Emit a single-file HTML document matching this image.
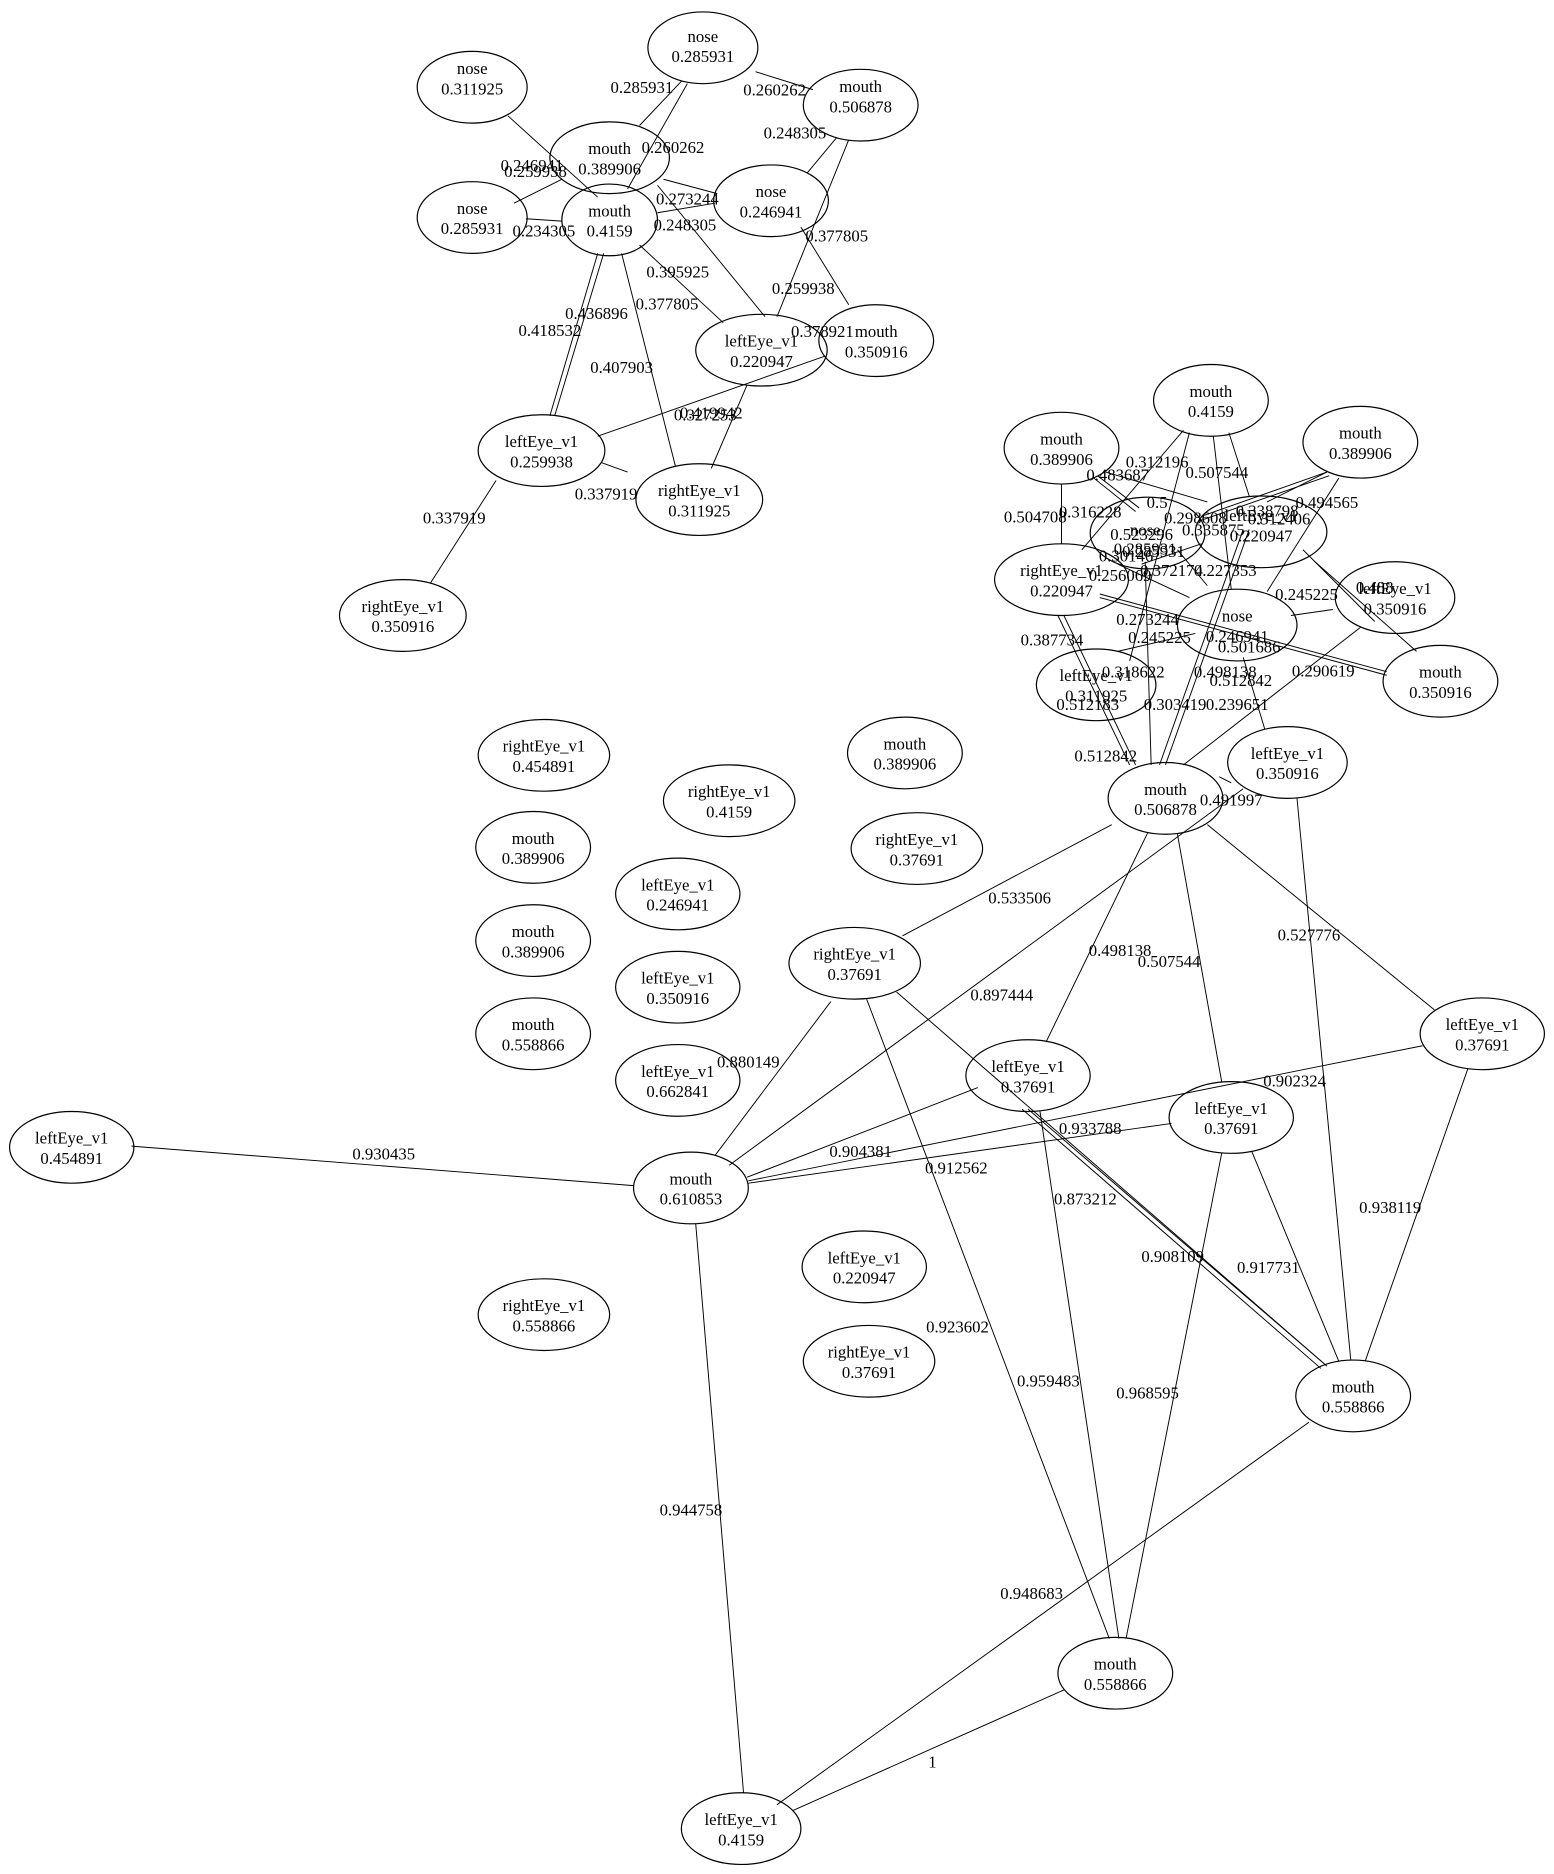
<!DOCTYPE html>
<html><head><meta charset="utf-8"><style>
html,body{margin:0;padding:0;background:#fff;}
svg{display:block;}
text{font-family:"Liberation Serif",serif;font-size:14px;fill:#000;text-anchor:middle;}
ellipse{fill:none;stroke:#000;stroke-width:1;}
line{stroke:#000;stroke-width:0.8;}
</style></head><body>
<svg width="1554" height="1874" viewBox="0 0 1300 1568" preserveAspectRatio="none">
<g>
<!-- top cluster edges -->
<line x1="425" y1="97" x2="500" y2="165"/>
<line x1="430" y1="170" x2="470" y2="150"/>
<line x1="440" y1="183" x2="470" y2="185"/>
<line x1="570" y1="68" x2="535" y2="105"/>
<line x1="575" y1="70" x2="525" y2="158"/>
<line x1="632" y1="60" x2="680" y2="75"/>
<line x1="700" y1="115" x2="675" y2="145"/>
<line x1="710" y1="117" x2="650" y2="265"/>
<line x1="555" y1="150" x2="600" y2="162"/>
<line x1="550" y1="178" x2="598" y2="170"/>
<line x1="550" y1="155" x2="640" y2="265"/>
<line x1="670" y1="190" x2="710" y2="255"/>
<line x1="535" y1="205" x2="605" y2="270"/>
<line x1="520" y1="212" x2="565" y2="390"/>
<line x1="500" y1="212" x2="460" y2="348"/>
<line x1="505" y1="212" x2="464" y2="348"/>
<line x1="500" y1="365" x2="690" y2="298"/>
<line x1="625" y1="322" x2="595" y2="392"/>
<line x1="503" y1="387" x2="525" y2="395"/>
<line x1="415" y1="402" x2="360" y2="488"/>
<!-- right cluster edges -->
<line x1="888" y1="405" x2="888" y2="455"/>
<line x1="915" y1="400" x2="950" y2="428"/>
<line x1="918" y1="398" x2="953" y2="425"/>
<line x1="925" y1="395" x2="1010" y2="420"/>
<line x1="990" y1="360" x2="905" y2="460"/>
<line x1="995" y1="362" x2="945" y2="553"/>
<line x1="1015" y1="365" x2="1030" y2="493"/>
<line x1="1028" y1="362" x2="1045" y2="415"/>
<line x1="1110" y1="395" x2="1005" y2="432"/>
<line x1="1112" y1="398" x2="1003" y2="436"/>
<line x1="1110" y1="395" x2="1060" y2="420"/>
<line x1="1120" y1="400" x2="1060" y2="495"/>
<line x1="1090" y1="460" x2="1150" y2="520"/>
<line x1="1100" y1="470" x2="1185" y2="545"/>
<line x1="920" y1="497" x2="1160" y2="562"/>
<line x1="920" y1="500" x2="1160" y2="565"/>
<line x1="935" y1="472" x2="995" y2="500"/>
<line x1="985" y1="460" x2="1010" y2="490"/>
<line x1="955" y1="472" x2="1005" y2="455"/>
<line x1="885" y1="515" x2="945" y2="640"/>
<line x1="890" y1="515" x2="950" y2="640"/>
<line x1="958" y1="470" x2="963" y2="640"/>
<line x1="935" y1="545" x2="1000" y2="530"/>
<line x1="1040" y1="443" x2="970" y2="640"/>
<line x1="1045" y1="443" x2="975" y2="640"/>
<line x1="1080" y1="515" x2="1115" y2="510"/>
<line x1="1138" y1="525" x2="990" y2="640"/>
<line x1="1040" y1="550" x2="1058" y2="610"/>
<line x1="1020" y1="650" x2="1030" y2="655"/>
<!-- lower edges -->
<line x1="930" y1="690" x2="755" y2="783"/>
<line x1="1040" y1="660" x2="610" y2="975"/>
<line x1="960" y1="697" x2="875" y2="872"/>
<line x1="985" y1="698" x2="1022" y2="905"/>
<line x1="1010" y1="690" x2="1200" y2="845"/>
<line x1="1085" y1="668" x2="1130" y2="1138"/>
<line x1="695" y1="838" x2="598" y2="967"/>
<line x1="625" y1="985" x2="818" y2="910"/>
<line x1="626" y1="990" x2="980" y2="940"/>
<line x1="626" y1="988" x2="1190" y2="875"/>
<line x1="110" y1="959" x2="530" y2="992"/>
<line x1="582" y1="1024" x2="622" y2="1500"/>
<line x1="725" y1="836" x2="928" y2="1371"/>
<line x1="750" y1="830" x2="1110" y2="1143"/>
<line x1="855" y1="928" x2="1105" y2="1145"/>
<line x1="860" y1="928" x2="1110" y2="1143"/>
<line x1="870" y1="930" x2="936" y2="1371"/>
<line x1="1022" y1="965" x2="942" y2="1371"/>
<line x1="1047" y1="963" x2="1120" y2="1139"/>
<line x1="1228" y1="894" x2="1142" y2="1139"/>
<line x1="1095" y1="1190" x2="650" y2="1510"/>
<line x1="890" y1="1414" x2="663" y2="1515"/>
</g>
<g>
<!-- nodes -->
<ellipse cx="395" cy="73" rx="46" ry="30" fill="#fff"/><text x="395" y="62">nose</text><text x="395" y="79">0.311925</text>
<ellipse cx="588" cy="40" rx="46" ry="30"/><text x="588" y="35">nose</text><text x="588" y="52">0.285931</text>
<ellipse cx="720" cy="88" rx="48" ry="30"/><text x="720" y="77">mouth</text><text x="720" y="94">0.506878</text>
<ellipse cx="510" cy="132" rx="50" ry="30"/><text x="510" y="129">mouth</text><text x="510" y="146">0.389906</text>
<ellipse cx="395" cy="182" rx="46" ry="30"/><text x="395" y="179">nose</text><text x="395" y="196">0.285931</text>
<ellipse cx="510" cy="184" rx="40" ry="30"/><text x="510" y="181">mouth</text><text x="510" y="198">0.4159</text>
<ellipse cx="645" cy="168" rx="48" ry="30"/><text x="645" y="165">nose</text><text x="645" y="182">0.246941</text>
<ellipse cx="637" cy="293" rx="55" ry="30"/><text x="637" y="290">leftEye_v1</text><text x="637" y="307">0.220947</text>
<ellipse cx="733" cy="285" rx="48" ry="30"/><text x="733" y="282">mouth</text><text x="733" y="299">0.350916</text>
<ellipse cx="453" cy="377" rx="53" ry="30"/><text x="453" y="374">leftEye_v1</text><text x="453" y="391">0.259938</text>
<ellipse cx="585" cy="418" rx="53" ry="30"/><text x="585" y="415">rightEye_v1</text><text x="585" y="432">0.311925</text>
<ellipse cx="337" cy="515" rx="53" ry="30"/><text x="337" y="512">rightEye_v1</text><text x="337" y="529">0.350916</text>

<ellipse cx="1013" cy="335" rx="48" ry="30"/><text x="1013" y="332">mouth</text><text x="1013" y="349">0.4159</text>
<ellipse cx="888" cy="375" rx="48" ry="30"/><text x="888" y="372">mouth</text><text x="888" y="389">0.389906</text>
<ellipse cx="1138" cy="370" rx="48" ry="30"/><text x="1138" y="367">mouth</text><text x="1138" y="384">0.389906</text>
<ellipse cx="960" cy="446" rx="48" ry="30"/><text x="958" y="448">nose</text><text x="958" y="464">0.285931</text>
<ellipse cx="1055" cy="445" rx="55" ry="30"/><text x="1055" y="436">leftEye_v1</text><text x="1055" y="453">0.220947</text>
<ellipse cx="888" cy="485" rx="56" ry="30"/><text x="888" y="482">rightEye_v1</text><text x="888" y="499">0.220947</text>
<ellipse cx="1167" cy="500" rx="50" ry="30"/><text x="1167" y="497">leftEye_v1</text><text x="1167" y="514">0.350916</text>
<ellipse cx="1035" cy="523" rx="50" ry="30"/><text x="1035" y="520">nose</text><text x="1035" y="537">0.246941</text>
<ellipse cx="917" cy="573" rx="50" ry="30"/><text x="917" y="570">leftEye_v1</text><text x="917" y="587">0.311925</text>
<ellipse cx="1205" cy="570" rx="48" ry="30"/><text x="1205" y="567">mouth</text><text x="1205" y="584">0.350916</text>
<ellipse cx="1077" cy="638" rx="50" ry="30"/><text x="1077" y="635">leftEye_v1</text><text x="1077" y="652">0.350916</text>
<ellipse cx="975" cy="668" rx="48" ry="30"/><text x="975" y="665">mouth</text><text x="975" y="682">0.506878</text>

<ellipse cx="715" cy="806" rx="55" ry="30"/><text x="715" y="803">rightEye_v1</text><text x="715" y="820">0.37691</text>
<ellipse cx="860" cy="900" rx="52" ry="30"/><text x="860" y="897">leftEye_v1</text><text x="860" y="914">0.37691</text>
<ellipse cx="1030" cy="935" rx="52" ry="30"/><text x="1030" y="932">leftEye_v1</text><text x="1030" y="949">0.37691</text>
<ellipse cx="1240" cy="865" rx="52" ry="30"/><text x="1240" y="862">leftEye_v1</text><text x="1240" y="879">0.37691</text>
<ellipse cx="578" cy="994" rx="48" ry="30"/><text x="578" y="991">mouth</text><text x="578" y="1008">0.610853</text>
<ellipse cx="60" cy="960" rx="52" ry="30"/><text x="60" y="957">leftEye_v1</text><text x="60" y="974">0.454891</text>
<ellipse cx="1132" cy="1168" rx="48" ry="30"/><text x="1132" y="1165">mouth</text><text x="1132" y="1182">0.558866</text>
<ellipse cx="933" cy="1400" rx="48" ry="30"/><text x="933" y="1397">mouth</text><text x="933" y="1414">0.558866</text>
<ellipse cx="620" cy="1530" rx="50" ry="30"/><text x="620" y="1527">leftEye_v1</text><text x="620" y="1544">0.4159</text>

<ellipse cx="455" cy="632" rx="55" ry="30"/><text x="455" y="629">rightEye_v1</text><text x="455" y="646">0.454891</text>
<ellipse cx="610" cy="670" rx="55" ry="30"/><text x="610" y="667">rightEye_v1</text><text x="610" y="684">0.4159</text>
<ellipse cx="757" cy="630" rx="48" ry="30"/><text x="757" y="627">mouth</text><text x="757" y="644">0.389906</text>
<ellipse cx="767" cy="710" rx="55" ry="30"/><text x="767" y="707">rightEye_v1</text><text x="767" y="724">0.37691</text>
<ellipse cx="446" cy="709" rx="48" ry="30"/><text x="446" y="706">mouth</text><text x="446" y="723">0.389906</text>
<ellipse cx="567" cy="748" rx="52" ry="30"/><text x="567" y="745">leftEye_v1</text><text x="567" y="762">0.246941</text>
<ellipse cx="446" cy="787" rx="48" ry="30"/><text x="446" y="784">mouth</text><text x="446" y="801">0.389906</text>
<ellipse cx="567" cy="826" rx="52" ry="30"/><text x="567" y="823">leftEye_v1</text><text x="567" y="840">0.350916</text>
<ellipse cx="446" cy="865" rx="48" ry="30"/><text x="446" y="862">mouth</text><text x="446" y="879">0.558866</text>
<ellipse cx="567" cy="904" rx="52" ry="30"/><text x="567" y="901">leftEye_v1</text><text x="567" y="918">0.662841</text>
<ellipse cx="455" cy="1100" rx="55" ry="30"/><text x="455" y="1097">rightEye_v1</text><text x="455" y="1114">0.558866</text>
<ellipse cx="723" cy="1060" rx="52" ry="30"/><text x="723" y="1057">leftEye_v1</text><text x="723" y="1074">0.220947</text>
<ellipse cx="727" cy="1139" rx="55" ry="30"/><text x="727" y="1136">rightEye_v1</text><text x="727" y="1153">0.37691</text>
</g>
<g>
<!-- edge labels -->
<text x="537" y="78">0.285931</text><text x="648" y="80">0.260262</text><text x="563" y="128">0.260262</text>
<text x="445" y="143">0.246941</text><text x="448" y="148">0.259938</text><text x="455" y="198">0.234305</text>
<text x="665" y="116">0.248305</text><text x="575" y="171">0.273244</text><text x="573" y="193">0.248305</text>
<text x="700" y="202">0.377805</text><text x="672" y="246">0.259938</text><text x="567" y="232">0.395925</text>
<text x="558" y="259">0.377805</text><text x="499" y="267">0.436896</text><text x="460" y="281">0.418532</text>
<text x="688" y="282">0.378921</text><text x="520" y="312">0.407903</text><text x="590" y="352">0.327253</text>
<text x="595" y="350">0.419942</text><text x="507" y="418">0.337919</text><text x="380" y="438">0.337919</text>

<text x="968" y="391">0.312196</text><text x="935" y="402">0.483687</text><text x="1018" y="400">0.507544</text>
<text x="968" y="425">0.5</text><text x="912" y="433">0.316228</text><text x="866" y="437">0.504708</text>
<text x="955" y="452">0.523296</text><text x="965" y="466">0.285931</text><text x="942" y="470">0.30146</text>
<text x="937" y="486">0.256069</text><text x="980" y="482">0.372174</text><text x="1025" y="482">0.227353</text>
<text x="1000" y="438">0.298608</text><text x="1060" y="432">0.338798</text><text x="1070" y="439">0.312406</text>
<text x="1015" y="448">0.335875</text><text x="1110" y="425">0.494565</text><text x="1093" y="502">0.245225</text>
<text x="1150" y="496">0.488</text><text x="960" y="523">0.273244</text><text x="970" y="538">0.245225</text>
<text x="880" y="540">0.387734</text><text x="1045" y="546">0.501686</text><text x="948" y="567">0.318622</text>
<text x="1025" y="567">0.498138</text><text x="1038" y="574">0.512842</text><text x="1107" y="566">0.290619</text>
<text x="910" y="594">0.512183</text><text x="983" y="594">0.303419</text><text x="1035" y="594">0.239651</text>
<text x="925" y="637">0.512842</text><text x="1030" y="674">0.491997</text>

<text x="853" y="756">0.533506</text><text x="838" y="837">0.897444</text><text x="937" y="800">0.498138</text>
<text x="978" y="809">0.507544</text><text x="1095" y="787">0.527776</text><text x="626" y="893">0.880149</text>
<text x="1083" y="909">0.902324</text><text x="912" y="949">0.933788</text><text x="720" y="968">0.904381</text>
<text x="800" y="982">0.912562</text><text x="908" y="1008">0.873212</text><text x="321" y="970">0.930435</text>
<text x="981" y="1056">0.908109</text><text x="1061" y="1065">0.917731</text><text x="1163" y="1015">0.938119</text>
<text x="801" y="1115">0.923602</text><text x="877" y="1160">0.959483</text><text x="960" y="1170">0.968595</text>
<text x="578" y="1268">0.944758</text><text x="863" y="1338">0.948683</text><text x="780" y="1479">1</text>
</g>
</svg>
</body></html>
